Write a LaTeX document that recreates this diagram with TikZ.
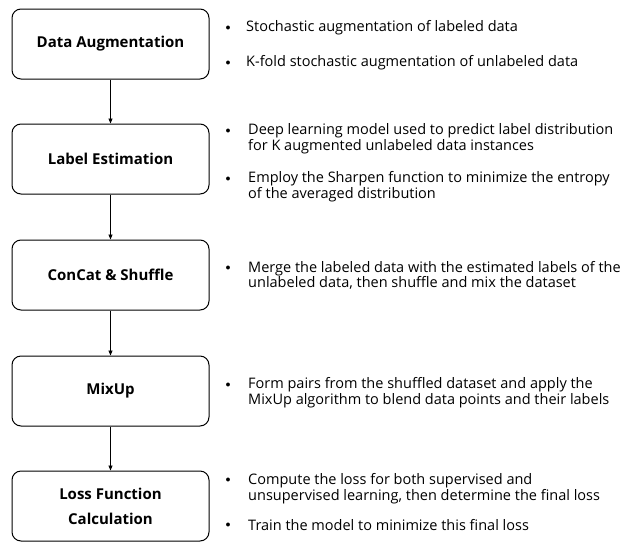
\documentclass[tikz,border=0pt]{standalone}
\usepackage{fontspec}
\setmainfont{Open Sans}
\usetikzlibrary{arrows.meta}
\tikzset{
  stage/.style={draw=black, line width=1pt, rounded corners=9pt, minimum width=197pt, minimum height=70pt, inner sep=0pt, font=\bfseries\fontsize{15}{25}\selectfont, align=center},
  dot/.style={font=\fontsize{10}{12}\selectfont, inner sep=0pt},
  desc/.style={anchor=west, align=left, inner sep=0pt, font=\fontsize{14.5}{15.5}\selectfont},
  flow/.style={draw=black, line width=0.8pt, -{Triangle[length=5pt,width=4pt]}}
}
\begin{document}
\begin{tikzpicture}[x=1pt,y=-1pt]
\useasboundingbox (0,0) rectangle (629,544);
\node[stage] (s1) at (110.5,44) {Data Augmentation};
\node[stage] (s2) at (110.5,159) {Label Estimation};
\node[stage] (s3) at (110.5,275) {ConCat \& Shuffle};
\node[stage] (s4) at (110.5,391) {MixUp};
\node[stage] (s5) at (110.5,506) {Loss Function\\Calculation};
\draw[flow] (s1) -- (s2);
\draw[flow] (s2) -- (s3);
\draw[flow] (s3) -- (s4);
\draw[flow] (s4) -- (s5);
% bullets
\node[dot] (b1) at (228,28) {$\bullet$};
\node[desc] (t1) at (246,28) {Stochastic augmentation of labeled data};
\node[dot] (b2) at (228,63) {$\bullet$};
\node[desc] (t2) at (246,63) {K-fold stochastic augmentation of unlabeled data};
\node[dot] (b3) at (228,131) {$\bullet$};
\node[desc] (t3) at (248,138.5) {Deep learning model used to predict label distribution\\for K augmented unlabeled data instances};
\node[dot] (b4) at (228,179) {$\bullet$};
\node[desc] (t4) at (248,186.5) {Employ the Sharpen function to minimize the entropy\\of the averaged distribution};
\node[dot] (b5) at (228,268) {$\bullet$};
\node[desc] (t5) at (248,275.5) {Merge the labeled data with the estimated labels of the\\unlabeled data, then shuffle and mix the dataset};
\node[dot] (b6) at (228,385) {$\bullet$};
\node[desc] (t6) at (248,392.5) {Form pairs from the shuffled dataset and apply the\\MixUp algorithm to blend data points and their labels};
\node[dot] (b7) at (228,480) {$\bullet$};
\node[desc] (t7) at (248,488.5) {Compute the loss for both supervised and\\unsupervised learning, then determine the final loss};
\node[dot] (b8) at (228,525) {$\bullet$};
\node[desc] (t8) at (248,525) {Train the model to minimize this final loss};
\end{tikzpicture}
\end{document}
